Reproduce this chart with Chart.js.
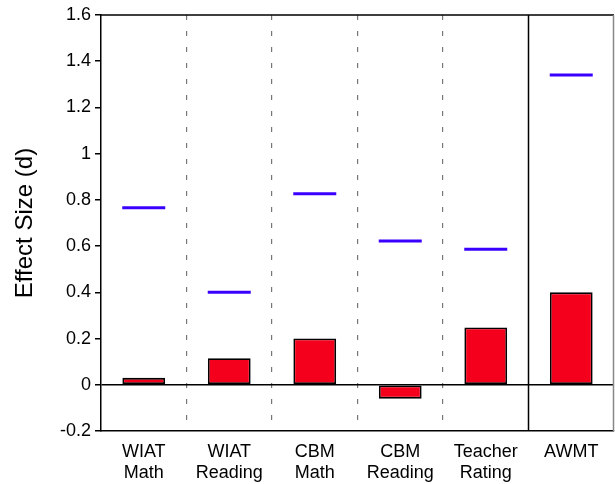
<!DOCTYPE html>
<html>
<head>
<meta charset="utf-8">
<script src="https://cdn.jsdelivr.net/npm/chart.js@4"></script>
<style>
  html, body { margin: 0; padding: 0; background: #fff; }
  #wrap { width: 615px; height: 484px; }
</style>
</head>
<body>
<div id="wrap"><canvas id="data-chart"></canvas></div>
<script>
// measures on the x axis
var measures = [["WIAT", "Math"], ["WIAT", "Reading"], ["CBM", "Math"], ["CBM", "Reading"], ["Teacher", "Rating"], ["AWMT"]];
// red bars
var barValues = [0.03, 0.115, 0.20, -0.06, 0.248, 0.40];
// blue marks
var lineValues = [0.766, 0.40, 0.827, 0.622, 0.586, 1.34];

var yMin = -0.2, yMax = 1.6, yStep = 0.2;

// frame, and the solid separator before the last group
var framePlugin = {
    id: 'frame',
    afterDatasetsDraw: function(chart) {
        var c = chart.ctx, a = chart.chartArea, x = chart.scales.x;
        c.save();
        c.lineWidth = 1.5;
        c.strokeStyle = '#000';
        c.beginPath();
        c.moveTo(a.left, a.top);
        c.lineTo(a.right, a.top);
        var sep = (x.getPixelForValue(4) + x.getPixelForValue(5)) / 2;
        c.moveTo(sep, a.top);
        c.lineTo(sep, a.bottom);
        c.stroke();
        c.strokeStyle = '#888';
        c.beginPath();
        c.moveTo(a.right - 0.5, a.top);
        c.lineTo(a.right - 0.5, a.bottom);
        c.stroke();
        c.restore();
    }
};

var ctx = document.getElementById("data-chart");
var chart = new Chart(ctx, {
    type: 'bar',
    plugins: [framePlugin],
    data: {
        labels: measures,
        datasets: [
            {
                type: 'line',
                label: "Comparison",
                data: lineValues,
                showLine: false,
                pointStyle: 'line',
                pointRadius: 21.5,
                pointBorderWidth: 3,
                borderColor: '#3a00ff',
                backgroundColor: '#3a00ff',
                order: 0
            },
            {
                label: "Effect size",
                data: barValues,
                backgroundColor: '#f5001c',
                borderColor: '#000',
                borderWidth: 1.8,
                borderSkipped: false,
                barPercentage: 0.5,
                categoryPercentage: 1,
                order: 1
            }
        ]
    },
    options: {
        responsive: true,
        maintainAspectRatio: false,
        animation: false,
        layout: { autoPadding: false, padding: { top: 15, right: 1, left: 0, bottom: 0 } },
        plugins: {
            legend: { display: false },
            tooltip: { enabled: false }
        },
        scales: {
            x: {
                offset: true,
                grid: {
                    offset: true,
                    drawTicks: false,
                    lineWidth: 1.2,
                    color: function(c) {
                        return (c.index >= 1 && c.index <= 4) ? '#777' : 'rgba(0,0,0,0)';
                    }
                },
                border: { display: true, color: '#000', width: 1.5, dash: [5, 11] },
                ticks: {
                    color: '#000',
                    padding: 10,
                    maxRotation: 0,
                    font: { family: 'Liberation Sans, Arial, sans-serif', size: 18 }
                },
                afterFit: function(s) {
                    s.height = 53;
                    s.paddingLeft = 0;
                    s.paddingRight = 0;
                }
            },
            y: {
                min: yMin,
                max: yMax,
                ticks: {
                    stepSize: yStep,
                    color: '#000',
                    padding: 4,
                    font: { family: 'Liberation Sans, Arial, sans-serif', size: 18 },
                    callback: function(v) { return String(Math.round(v * 10) / 10); }
                },
                grid: {
                    tickLength: 6,
                    tickColor: '#000',
                    lineWidth: 1.5,
                    color: function(c) {
                        return (c.tick && Math.abs(c.tick.value) < 1e-9) ? '#000' : 'rgba(0,0,0,0)';
                    }
                },
                border: { display: true, color: '#000', width: 1.5 },
                title: {
                    display: true,
                    text: 'Effect Size (d)',
                    color: '#000',
                    padding: { top: 11, bottom: 0 },
                    font: { family: 'Liberation Sans, Arial, sans-serif', size: 24 }
                },
                afterFit: function(s) { s.width = 101; }
            }
        }
    }
});
</script>
</body>
</html>
